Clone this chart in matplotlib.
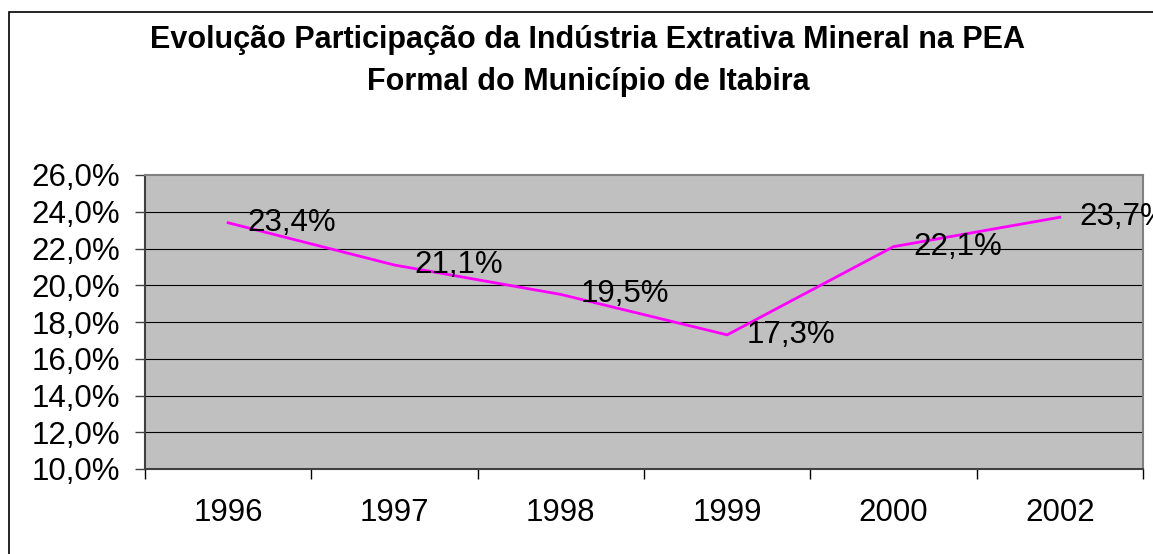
import matplotlib.pyplot as plt
from matplotlib.patches import Rectangle

# -----------------------------------------
# DATA
# -----------------------------------------
years = ["1996", "1997", "1998", "1999", "2000", "2002"]
share = [23.4, 21.1, 19.5, 17.3, 22.1, 23.7]
yticks = [10, 12, 14, 16, 18, 20, 22, 24, 26]

TITLE = ("Evolução Participação da Indústria Extrativa Mineral na PEA\n"
         "Formal do Município de Itabira")

plt.rcParams["font.family"] = ["Liberation Sans", "DejaVu Sans"]

W, H = 1153, 554
fig = plt.figure(figsize=(W / 100, H / 100), dpi=100)

# outer chart border (runs off right/bottom edge like the original)
fig.patches.append(Rectangle((9 / W, -0.1), 1.2, 1 - 12 / H + 0.1,
                             transform=fig.transFigure, fill=False,
                             edgecolor="black", linewidth=1.2))

ax = fig.add_axes([145 / W, (H - 469) / H, 998 / W, 294 / H])
ax.set_facecolor("#c0c0c0")

x = list(range(len(years)))
ax.plot(x, share, color="#ff00ff", linewidth=2.0, zorder=3)

for xi, v in zip(x, share):
    ax.annotate(f"{v:.1f}%".replace(".", ","), (xi, v), xytext=(14, 0),
                textcoords="offset points", ha="left", va="center",
                fontsize=22.5, zorder=4, annotation_clip=False)

ax.set_xlim(-0.5, len(years) - 0.5)
ax.set_ylim(10, 26)

ax.set_yticks(yticks)
ax.set_yticklabels([f"{t:.1f}%".replace(".", ",") for t in yticks], fontsize=22.5)
ax.tick_params(axis="y", length=7, width=1, color="#404040", pad=11)

ax.set_xticks(x)
ax.set_xticklabels(years, fontsize=22.5)
ax.tick_params(axis="x", which="major", length=0, pad=21)
ax.set_xticks([i - 0.5 for i in range(len(years) + 1)], minor=True)
ax.tick_params(axis="x", which="minor", length=7, width=1, color="black",
               direction="out")

for t in yticks[1:-1]:
    ax.axhline(t, color="black", linewidth=0.8, zorder=1)

ax.spines["left"].set_color("#404040")
ax.spines["bottom"].set_color("#404040")
ax.spines["top"].set_color("#808080")
ax.spines["right"].set_color("#808080")
for s in ax.spines.values():
    s.set_linewidth(1.5)

fig.text(588 / W, 1 - 61 / H, TITLE, ha="center", va="center",
         fontsize=22, fontweight="bold", linespacing=1.55)

fig.savefig("out.png", dpi=100)
